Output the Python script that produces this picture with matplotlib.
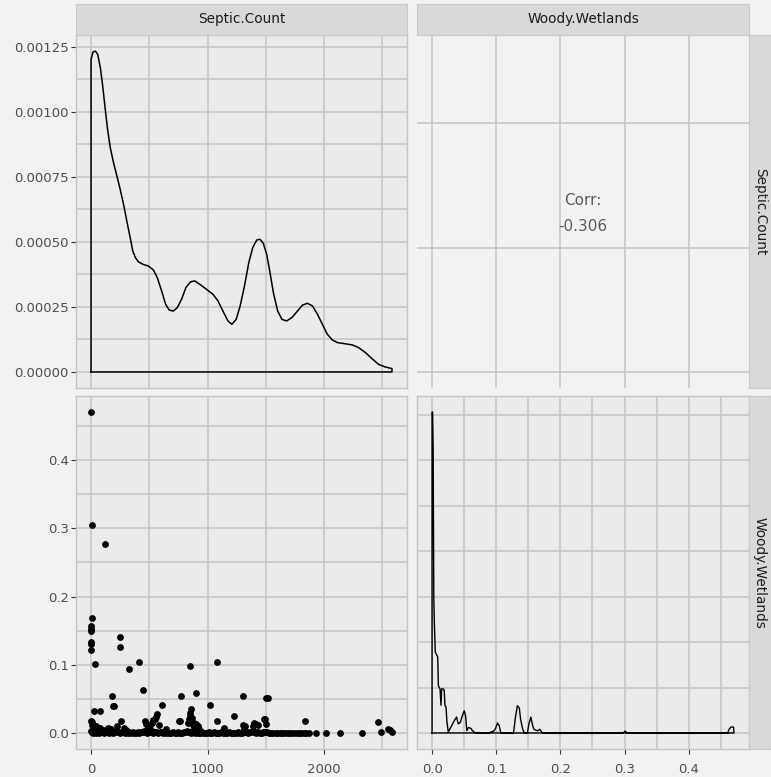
import matplotlib
matplotlib.use("Agg")
import matplotlib.pyplot as plt
from matplotlib.ticker import MultipleLocator, FormatStrFormatter

# ---------------- data ----------------
var_names = ["Septic.Count", "Woody.Wetlands"]
corr_label = "Corr:"
corr_value = "-0.306"

# density of Septic.Count
septic_dens_x = [0, 0, 17, 37, 57, 80, 100, 122, 142, 165, 193, 222, 250, 279, 307, 336, 358,
                 381, 407, 444, 492, 535, 569, 606, 640, 671, 706, 740, 777, 814, 853, 890,
                 933, 990, 1047, 1090, 1132, 1175, 1209, 1246, 1280, 1317, 1354, 1388, 1422,
                 1451, 1479, 1508, 1536, 1565, 1602, 1639, 1679, 1724, 1772, 1815, 1857, 1900,
                 1943, 1986, 2028, 2071, 2114, 2171, 2242, 2299, 2356, 2412, 2469, 2526, 2583,
                 2583, 0]
septic_dens_y = [0, 0.001201, 0.001230, 0.001233, 0.001221, 0.001169, 0.001099, 0.001009,
                 0.000932, 0.000862, 0.000804, 0.000753, 0.000702, 0.000644, 0.000580,
                 0.000516, 0.000465, 0.000439, 0.000423, 0.000414, 0.000407, 0.000392,
                 0.000362, 0.000311, 0.000260, 0.000238, 0.000234, 0.000247, 0.000279,
                 0.000324, 0.000346, 0.000350, 0.000337, 0.000318, 0.000298, 0.000273,
                 0.000234, 0.000196, 0.000183, 0.000202, 0.000254, 0.000330, 0.000420,
                 0.000478, 0.000507, 0.000510, 0.000494, 0.000452, 0.000382, 0.000305,
                 0.000234, 0.000202, 0.000196, 0.000209, 0.000234, 0.000257, 0.000264,
                 0.000254, 0.000222, 0.000183, 0.000145, 0.000123, 0.000113, 0.000109,
                 0.000104, 0.000093, 0.000074, 0.000051, 0.000029, 0.000019, 0.000013, 0, 0]

# density of Woody.Wetlands
woody_dens_x = [0.0, 0.0, 0.0008, 0.0017, 0.0022, 0.0027, 0.0035, 0.0050, 0.0088, 0.0098,
                0.0124, 0.0139, 0.0150, 0.0175, 0.0190, 0.0200, 0.0217, 0.0232, 0.0253,
                0.0294, 0.0346, 0.0382, 0.0408, 0.0440, 0.0465, 0.0501, 0.0522, 0.0542,
                0.0568, 0.0605, 0.0630, 0.0656, 0.0680, 0.088, 0.092, 0.096, 0.099, 0.102,
                0.105, 0.107, 0.127, 0.130, 0.133, 0.136, 0.138, 0.141, 0.1435, 0.1486,
                0.151, 0.154, 0.157, 0.159, 0.162, 0.165, 0.168, 0.172, 0.298, 0.301,
                0.304, 0.461, 0.463, 0.466, 0.470, 0.4706, 0.0]
woody_dens_y = [0, 70.6, 70.6, 62.5, 45.0, 30.0, 24.4, 17.8, 16.7, 10.4,
                9.7, 6.1, 9.7, 9.7, 9.3, 6.1, 5.7, 2.4, 0.2,
                1.3, 2.7, 3.5, 2.0, 2.3, 3.5, 4.9, 3.8, 0.5,
                1.2, 1.0, 0.5, 0.2, 0.0, 0.0, 0.2, 0.4, 1.0, 2.2,
                1.5, 0.0, 0.0, 3.5, 6.0, 5.5, 3.0, 1.0, 0.0, 0.0,
                2.0, 3.5, 1.5, 0.8, 0.6, 0.5, 0.8, 0.0, 0.0, 0.4,
                0.0, 0.0, 0.8, 1.3, 1.3, 0.0, 0.0]

# scatter: isolated points
septic_hi = [0, 8, 122, 8, 0, 2, 0, 3, 0, 0, 37, 250, 245, 329, 414, 443, 179, 186, 200,
             23, 80, 846, 1080, 898, 776, 608, 1023, 856, 1301, 1500, 1523, 1230, 1835,
             762, 1080, 1489, 2460]
woody_hi = [0.470, 0.305, 0.277, 0.169, 0.157, 0.153, 0.150, 0.134, 0.131, 0.121, 0.101,
            0.140, 0.126, 0.094, 0.1045, 0.0635, 0.054, 0.040, 0.040, 0.032, 0.032, 0.0987,
            0.1045, 0.0587, 0.054, 0.0415, 0.0415, 0.035, 0.054, 0.051, 0.051, 0.0245, 0.017,
            0.017, 0.017, 0.020, 0.0157]

# scatter: small-value clusters
septic_mid = [0, 6, 12, 25, 40, 55, 77, 100, 147, 170, 219, 256, 280, 300, 460, 474, 490,
              503, 520, 531, 545, 559, 568, 585, 640, 759, 830, 840, 850, 850, 860, 865, 875,
              880, 890, 903, 917, 930, 1145, 1308, 1315, 1320, 1386, 1400, 1415, 1429, 1486,
              1500, 2490, 2547, 2567, 2580]
woody_mid = [0.018, 0.0165, 0.012, 0.008, 0.010, 0.006, 0.008, 0.005, 0.008, 0.006, 0.010,
             0.017, 0.008, 0.005, 0.018, 0.013, 0.009, 0.011, 0.015, 0.0195, 0.020, 0.024,
             0.028, 0.012, 0.006, 0.018, 0.015, 0.020, 0.025, 0.030, 0.017, 0.022, 0.012,
             0.015, 0.008, 0.013, 0.010, 0.006, 0.008, 0.012, 0.008, 0.010, 0.010, 0.015,
             0.013, 0.011, 0.0205, 0.013, 0.001, 0.006, 0.004, 0.002]

# scatter: points on the zero band
septic_low = [0, 5, 10, 18, 25, 33, 40, 52, 60, 70, 85, 95, 110, 120, 135, 150, 160, 175,
              190, 205, 215, 230, 245, 260, 275, 290, 300, 315, 330, 345, 360, 370, 385, 400,
              415, 430, 445, 455, 470, 480, 495, 510, 520, 535, 545, 560, 575, 590, 605, 620,
              640, 655, 670, 690, 705, 720, 735, 750, 765, 780, 795, 810, 825, 835, 845, 855,
              865, 875, 885, 895, 905, 920, 935, 950, 965, 980, 995, 1010, 1025, 1040, 1055,
              1070, 1085, 1100, 1115, 1130, 1150, 1165, 1180, 1200, 1215, 1230, 1250, 1265,
              1280, 1295, 1310, 1320, 1330, 1345, 1360, 1375, 1390, 1400, 1410, 1420, 1435,
              1450, 1465, 1480, 1495, 1510, 1525, 1545, 1565, 1585, 1600, 1620, 1640, 1660,
              1680, 1700, 1720, 1745, 1765, 1785, 1805, 1825, 1845, 1870, 1932, 2015, 2140,
              2322]
woody_low = [0.003, 0.001, 0.002, 0.000, 0.001, 0.003, 0.000, 0.002, 0.001, 0.000, 0.002,
             0.001, 0.000, 0.003, 0.001, 0.000, 0.002, 0.001, 0.000, 0.002, 0.003, 0.001,
             0.000, 0.002, 0.001, 0.000, 0.001, 0.000, 0.002, 0.000, 0.001, 0.000, 0.000,
             0.001, 0.000, 0.001, 0.002, 0.003, 0.001, 0.000, 0.002, 0.001, 0.003, 0.000,
             0.002, 0.001, 0.000, 0.002, 0.001, 0.000, 0.000, 0.001, 0.000, 0.000, 0.001,
             0.000, 0.000, 0.001, 0.000, 0.000, 0.002, 0.001, 0.003, 0.001, 0.002, 0.000,
             0.003, 0.001, 0.002, 0.000, 0.001, 0.000, 0.000, 0.001, 0.000, 0.000, 0.000,
             0.001, 0.000, 0.000, 0.001, 0.000, 0.000, 0.000, 0.001, 0.000, 0.000, 0.000,
             0.001, 0.000, 0.000, 0.000, 0.000, 0.001, 0.000, 0.000, 0.002, 0.001, 0.002,
             0.000, 0.001, 0.002, 0.003, 0.001, 0.002, 0.000, 0.001, 0.000, 0.000, 0.001,
             0.002, 0.001, 0.000, 0.000, 0.000, 0.000, 0.000, 0.000, 0.000, 0.000, 0.000,
             0.000, 0.000, 0.000, 0.000, 0.000, 0.000, 0.000, 0.000, 0.000, 0.000, 0.000,
             0.000, 0.000]

septic_lim = (-129.2, 2712.2)
woody_lim = (-0.0235, 0.4941)
septic_dens_lim = (-0.0000617, 0.001295)
woody_dens_lim = (-3.53, 74.13)

# ---------------- styling ----------------
W, H = 771, 777
fig = plt.figure(figsize=(W / 100, H / 100), dpi=100)
fig.patch.set_facecolor("#F2F2F2")

PANEL_BG = "#EBEBEB"
GRID = "#C3C3C3"
TICKCOL = "#4D4D4D"
FS = 9.5


def ax_at(l, t, r, b):
    return fig.add_axes([l / W, 1 - b / H, (r - l) / W, (b - t) / H])


def style(ax, xmaj, xmin, ymaj, ymin, left=False, bottom=False, minor=True, bg=PANEL_BG):
    ax.set_facecolor(bg)
    ax.xaxis.set_major_locator(MultipleLocator(xmaj))
    ax.yaxis.set_major_locator(MultipleLocator(ymaj))
    if minor:
        ax.xaxis.set_minor_locator(MultipleLocator(xmin))
        ax.yaxis.set_minor_locator(MultipleLocator(ymin))
        ax.grid(True, which="both", color=GRID, linewidth=1.1)
    else:
        ax.grid(True, which="major", color=GRID, linewidth=1.1)
    ax.set_axisbelow(True)
    ax.tick_params(which="minor", length=0)
    ax.tick_params(which="major", length=3.3, width=0.8, color="#333333",
                   labelsize=FS, labelcolor=TICKCOL, pad=2.0)
    ax.tick_params(axis="x", pad=6.5)
    ax.tick_params(left=left, labelleft=left, bottom=bottom, labelbottom=bottom)
    for s in ax.spines.values():
        s.set_color("#C3C3C3")
        s.set_linewidth(1.0)


def top_strip(l, r, label):
    sa = ax_at(l, 4, r, 35)
    sa.set_facecolor("#D9D9D9")
    sa.set_xticks([]); sa.set_yticks([])
    for s in sa.spines.values():
        s.set_color("#C8C8C8")
    sa.text(0.5, 0.5, label, ha="center", va="center", fontsize=FS + 0.3, color="#1A1A1A",
            transform=sa.transAxes)


def right_strip(t, b, label):
    sa = ax_at(749, t, 771, b)
    sa.set_facecolor("#D9D9D9")
    sa.set_xticks([]); sa.set_yticks([])
    for s in sa.spines.values():
        s.set_color("#C8C8C8")
    sa.text(0.5, 0.5, label, ha="center", va="center", fontsize=FS + 0.3, color="#1A1A1A",
            rotation=270, transform=sa.transAxes)


# top-left: density of Septic.Count
ax1 = ax_at(76, 35, 407, 388)
ax1.plot(septic_dens_x, septic_dens_y, color="black", linewidth=1.1, solid_joinstyle="round")
ax1.set_xlim(*septic_lim)
ax1.set_ylim(*septic_dens_lim)
style(ax1, 1000, 500, 0.00025, 0.000125, left=True)
ax1.yaxis.set_major_formatter(FormatStrFormatter("%.5f"))

# top-right: correlation
ax2 = ax_at(417, 35, 749, 388)
ax2.set_xlim(*woody_lim)
ax2.set_ylim(*septic_lim)
style(ax2, 0.1, 0.05, 1000, 500, minor=False, bg="#F2F2F2")
ax2.tick_params(length=0)
for s in ax2.spines.values():
    s.set_visible(False)
ax2.text(0.5, 1 - (200.7 - 35) / 353, corr_label, ha="center", va="center",
         fontsize=11, color="#5A5A5A", transform=ax2.transAxes)
ax2.text(0.5, 1 - (226.7 - 35) / 353, corr_value, ha="center", va="center",
         fontsize=11, color="#5A5A5A", transform=ax2.transAxes)

# bottom-left: scatter
ax3 = ax_at(76, 396, 407, 749)
for xs, ys in ((septic_low, woody_low), (septic_mid, woody_mid), (septic_hi, woody_hi)):
    ax3.scatter(xs, ys, s=24, color="black", linewidths=0, zorder=3)
ax3.set_xlim(*septic_lim)
ax3.set_ylim(*woody_lim)
style(ax3, 1000, 500, 0.1, 0.05, left=True, bottom=True)
ax3.xaxis.set_major_formatter(FormatStrFormatter("%d"))
ax3.yaxis.set_major_formatter(FormatStrFormatter("%.1f"))

# bottom-right: density of Woody.Wetlands
ax4 = ax_at(417, 396, 749, 749)
ax4.plot(woody_dens_x, woody_dens_y, color="black", linewidth=1.0)
ax4.set_xlim(*woody_lim)
ax4.set_ylim(*woody_dens_lim)
style(ax4, 0.1, 0.05, 20, 10, bottom=True)
ax4.xaxis.set_major_formatter(FormatStrFormatter("%.1f"))

top_strip(76, 407, var_names[0])
top_strip(417, 749, var_names[1])
right_strip(35, 388, var_names[0])
right_strip(396, 749, var_names[1])

fig.savefig("out.png", dpi=100, facecolor=fig.get_facecolor())
